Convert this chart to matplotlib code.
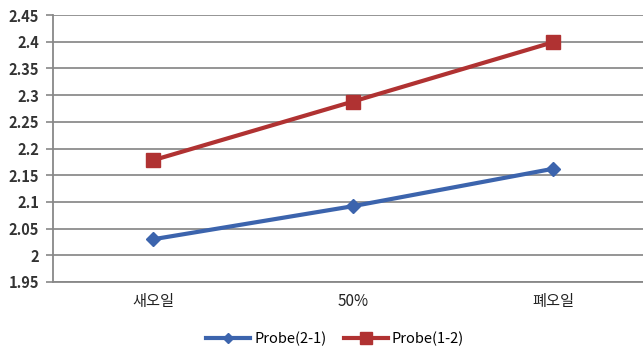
import matplotlib
matplotlib.use("Agg")
import matplotlib.pyplot as plt

plt.rcParams['font.family'] = ['Noto Sans CJK KR', 'DejaVu Sans']

categories = ['새오일', '50%', '폐오일']
probe_21 = [2.03, 2.092, 2.162]
probe_12 = [2.178, 2.288, 2.399]
yticks = [1.95, 2.0, 2.05, 2.1, 2.15, 2.2, 2.25, 2.3, 2.35, 2.4, 2.45]
ytick_labels = ['1.95', '2', '2.05', '2.1', '2.15', '2.2', '2.25', '2.3', '2.35', '2.4', '2.45']

fig = plt.figure(figsize=(6.43, 3.49), dpi=100)
ax = fig.add_axes([53/643, 1-282/349, 600/643, 267/349])

x = range(len(categories))
ax.plot(x, probe_21, color='#3c64ad', lw=3, marker='D', ms=7, label='Probe(2-1)')
ax.plot(x, probe_12, color='#b03232', lw=3, marker='s', ms=10, label='Probe(1-2)')

ax.set_xlim(-0.5, 2.5)
ax.set_ylim(1.95, 2.45)
ax.set_yticks(yticks)
ax.set_yticklabels(ytick_labels, fontsize=10.5, fontweight='bold', color='#333333')
ax.set_xticks(list(x))
ax.set_xticklabels(categories, fontsize=11, color='#222222')
ax.tick_params(axis='x', length=0, pad=8)
ax.tick_params(axis='y', length=5, width=1.2, color='#888888', pad=5)
ax.grid(axis='y', color='#8c8c8c', lw=1.3)
ax.set_axisbelow(True)
for s in ['top', 'right']:
    ax.spines[s].set_visible(False)
ax.spines['left'].set_color('#888888')
ax.spines['left'].set_linewidth(1.3)
ax.spines['bottom'].set_color('#888888')
ax.spines['bottom'].set_linewidth(1.3)

fig.legend(loc='center', bbox_to_anchor=(335/643, 1-339/349), ncol=2, frameon=False,
           prop={'size': 10.5}, handlelength=3.0, columnspacing=1.2, handletextpad=0.3,
           markerscale=0.8)

fig.savefig('out.png', dpi=100)
